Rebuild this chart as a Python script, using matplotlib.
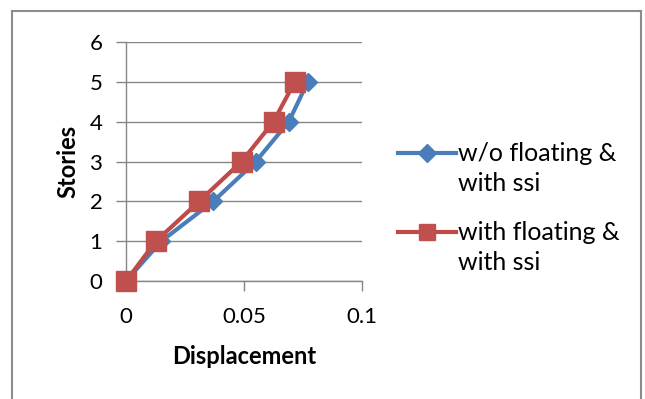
import numpy as np
import matplotlib.pyplot as plt
from matplotlib.lines import Line2D
from matplotlib.offsetbox import DrawingArea

# data
stories = [0, 1, 2, 3, 4, 5]
disp_wo_floating = [0, 0.015, 0.037, 0.055, 0.069, 0.077]
disp_with_floating = [0, 0.0127, 0.031, 0.049, 0.0625, 0.0715]
labels = ["w/o floating &\nwith ssi", "with floating &\nwith ssi"]
x_ticks = [0, 0.05, 0.1]
x_ticklabels = ["0", "0.05", "0.1"]
y_ticks = [0, 1, 2, 3, 4, 5, 6]

plt.rcParams['font.family'] = ['Lato', 'DejaVu Sans']
plt.rcParams.update({'font.size': 16})

blue = "#4A7EBB"
red = "#BE4B48"
grid_col = "#868686"

fig = plt.figure(figsize=(6.45, 3.99), dpi=100)
ax = fig.add_axes([126/645, 1 - 281/399, 236/645, (281 - 42)/399])

ax.plot(disp_wo_floating, stories, color=blue, lw=3, marker='D', markersize=9,
        markerfacecolor=blue, markeredgecolor=blue, label=labels[0], zorder=3,
        clip_on=False)
ax.plot(disp_with_floating, stories, color=red, lw=3, marker='s', markersize=14,
        markerfacecolor="#C0504D", markeredgecolor="#C0504D", label=labels[1], zorder=4,
        clip_on=False)

ax.set_xlim(0, 0.1)
ax.set_ylim(0, 6)
ax.set_xticks(x_ticks)
ax.set_xticklabels(x_ticklabels)
ax.set_yticks(y_ticks)
ax.yaxis.grid(True, color=grid_col, lw=1)
ax.set_axisbelow(True)

for s in ['top', 'right']:
    ax.spines[s].set_visible(False)
for s in ['left', 'bottom']:
    ax.spines[s].set_color(grid_col)
    ax.spines[s].set_linewidth(1)
ax.tick_params(axis='both', direction='out', length=7, color=grid_col, width=1,
               labelcolor='black', labelsize=16)
ax.tick_params(axis='y', pad=10)
ax.tick_params(axis='x', pad=12)

ax.set_xlabel("Displacement", fontweight='bold', fontsize=17, labelpad=13)
ax.set_ylabel("Stories", fontweight='bold', fontsize=17, labelpad=7)

leg = fig.legend(loc='center left', bbox_to_anchor=(398/645, 1 - 208/399),
                 frameon=False, borderpad=0, borderaxespad=0, handlelength=2.3,
                 handletextpad=0.1, labelspacing=1.05, fontsize=18)
for t in leg.get_texts():
    t.set_linespacing(1.35)
# put the legend handles level with the first line of each label
for da in leg.findobj(DrawingArea):
    for ln in da.get_children():
        if isinstance(ln, Line2D):
            ln.set_ydata(np.asarray(ln.get_ydata()) + 12)
            if ln.get_marker() == 's':
                ln.set_markersize(11)

# outer chart border
fig.add_artist(Line2D([12/645, 12/645], [0, 1 - 11/399], color="#8c8c8c", lw=1.5))
fig.add_artist(Line2D([12/645, 641/645], [1 - 11/399, 1 - 11/399], color="#8c8c8c", lw=1.5))
fig.add_artist(Line2D([641/645, 641/645], [0, 1 - 11/399], color="#8c8c8c", lw=1.5))

plt.savefig("out.png", dpi=100)
